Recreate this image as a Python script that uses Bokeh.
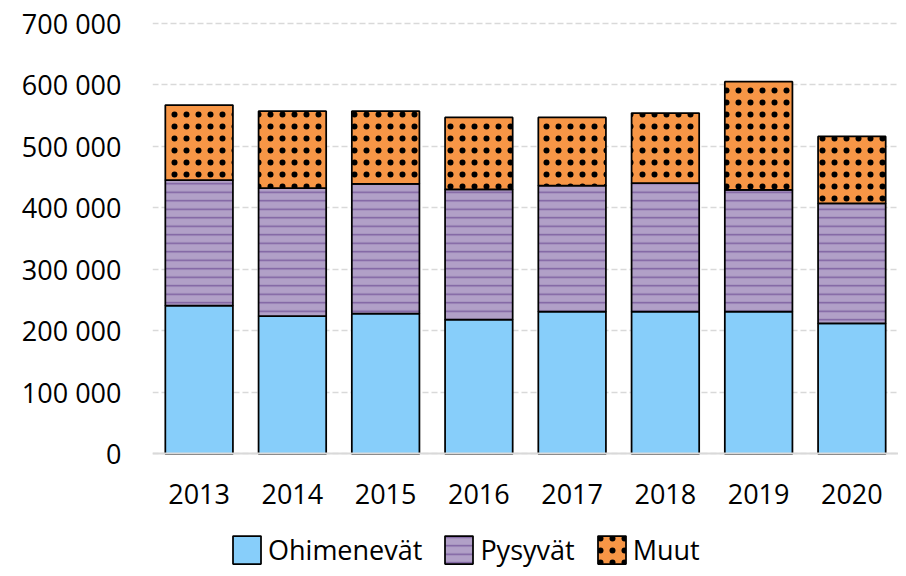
from bokeh.plotting import figure
from bokeh.models import FactorRange, Range1d, FixedTicker, Legend, LegendItem, ColumnDataSource
from bokeh.embed import file_html
from bokeh.resources import INLINE

years = ["2013", "2014", "2015", "2016", "2017", "2018", "2019", "2020"]
ohimenevat = [241000, 224000, 228000, 218000, 231000, 231000, 231000, 212000]
pysyvat = [204000, 208000, 211000, 212000, 205000, 209000, 198000, 195000]
muut = [122000, 125000, 118000, 117000, 111000, 114000, 176000, 109000]
series_names = ["Ohimenevät", "Pysyvät", "Muut"]
y_ticks = [0, 100000, 200000, 300000, 400000, 500000, 600000, 700000]
y_tick_labels = ["0", "100 000", "200 000", "300 000", "400 000", "500 000", "600 000", "700 000"]

FONT = "Open Sans"
FS = "27px"

source = ColumnDataSource(dict(years=years, ohimenevat=ohimenevat, pysyvat=pysyvat, muut=muut))

p = figure(
    x_range=FactorRange(*years, range_padding=0),
    y_range=Range1d(-186500, 709400),
    width=898, height=568,
    output_backend="svg", toolbar_location=None,
    min_border_left=152, min_border_right=0, min_border_top=17, min_border_bottom=0,
)
p.outline_line_color = None
p.background_fill_color = "white"
p.border_fill_color = "white"

renderers = p.vbar_stack(
    ["ohimenevat", "pysyvat", "muut"], x="years", width=0.725, source=source,
    fill_color=["#87CEFA", "#B1A0C7", "#F79646"],
    line_color="black", line_width=1.75,
    hatch_pattern=["blank", "horizontal_line", "dot"],
    hatch_color=["#87CEFA", "#7D60A0", "black"],
    hatch_scale=[12, 8.5, 12],
    hatch_weight=[1, 1.5, 0.2],
)

# grid
p.xgrid.visible = False
p.ygrid.grid_line_color = "#d9d9d9"
p.ygrid.grid_line_dash = "6 3"
p.ygrid.grid_line_width = 1.5
p.ygrid.ticker = FixedTicker(ticks=y_ticks)

# y axis
p.yaxis.ticker = FixedTicker(ticks=y_ticks)
p.yaxis.major_label_overrides = {t: l for t, l in zip(y_ticks, y_tick_labels)}
p.yaxis.axis_line_color = None
p.yaxis.major_tick_line_color = None
p.yaxis.minor_tick_line_color = None
p.yaxis.major_label_text_font = FONT
p.yaxis.major_label_text_font_size = FS
p.yaxis.major_label_text_color = "black"
p.yaxis.major_label_standoff = 25

# x axis, pinned at value 0
p.xaxis.fixed_location = 0
p.xaxis.axis_line_color = "#d9d9d9"
p.xaxis.axis_line_width = 2
p.xaxis.major_tick_line_color = None
p.xaxis.minor_tick_line_color = None
p.xaxis.major_label_text_font = FONT
p.xaxis.major_label_text_font_size = FS
p.xaxis.major_label_text_color = "black"
p.xaxis.major_label_standoff = 24

legend = Legend(
    items=[LegendItem(label=n, renderers=[r]) for n, r in zip(series_names, renderers)],
    orientation="horizontal",
    location=(77, 0),
    glyph_width=35, glyph_height=35,
    label_text_font=FONT, label_text_font_size=FS, label_text_color="black",
    label_standoff=4, spacing=19, padding=0, margin=0,
    border_line_alpha=0, background_fill_alpha=0,
)
p.add_layout(legend, "center")

open("out.html", "w").write(file_html(p, INLINE))
